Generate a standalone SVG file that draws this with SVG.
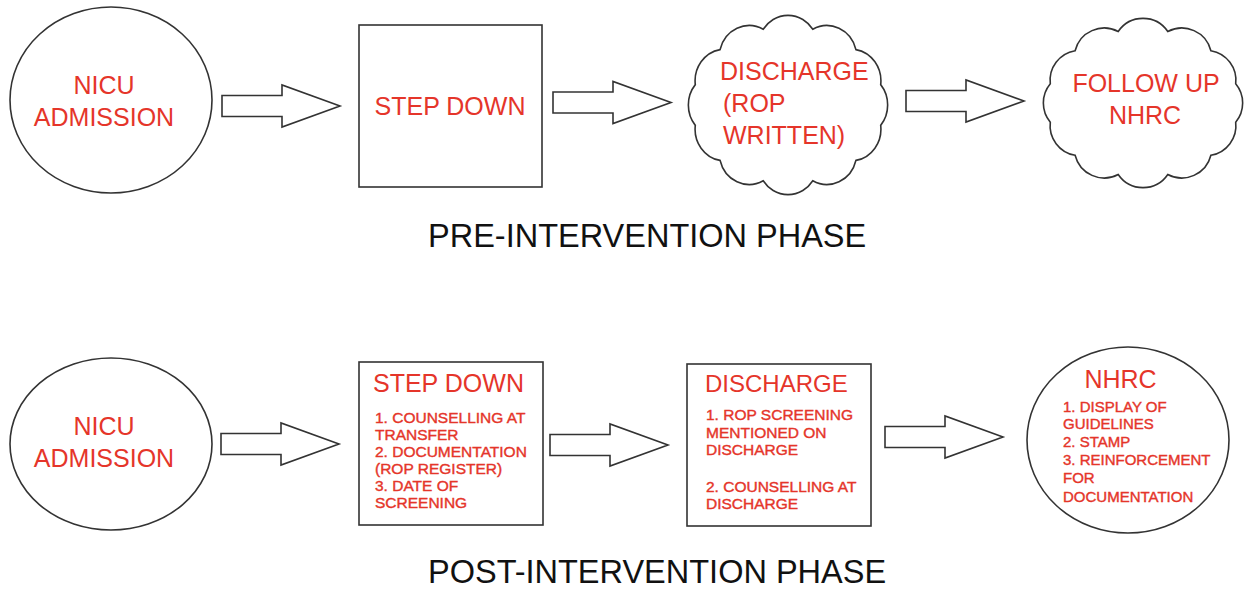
<svg xmlns="http://www.w3.org/2000/svg" xmlns:xlink="http://www.w3.org/1999/xlink" width="1246" height="591" viewBox="0 0 1246 591">
<style>
.shape{fill:none;stroke:#333;stroke-width:1.6}
.arrow{fill:#fff;stroke:#333;stroke-width:1.6;stroke-linejoin:miter}
.t{font-family:"Liberation Sans",Arial,sans-serif;fill:#e5352a}
.big{font-size:25px}
.small{font-size:15.5px;stroke:#e5352a;stroke-width:0.4}
.nh{font-size:15px}
.title{font-family:"Liberation Sans",Arial,sans-serif;font-size:32.5px;fill:#111}
</style>
<defs>
<path id="blockArrow" d="M0,-10.5 H60 V-21 L118,0 L60,21 V10.5 H0 Z"/>
<path id="cloud" d="M92.7,19.2 A30,30 0 0 1 67.9,52.3 A30,30 0 0 1 24.8,71.5 A30,30 0 0 1 -24.8,71.5 A30,30 0 0 1 -67.9,52.3 A30,30 0 0 1 -92.7,19.2 A30,30 0 0 1 -92.7,-19.2 A30,30 0 0 1 -67.9,-52.3 A30,30 0 0 1 -24.8,-71.5 A30,30 0 0 1 24.8,-71.5 A30,30 0 0 1 67.9,-52.3 A30,30 0 0 1 92.7,-19.2 A30,30 0 0 1 92.7,19.2 Z"/>
</defs>
<rect width="1246" height="591" fill="#fff"/>

<g id="pre-nicu">
<ellipse class="shape" cx="111" cy="100" rx="101" ry="93"/>
<text class="t big" x="104" y="94" text-anchor="middle">NICU</text>
<text class="t big" x="104" y="126" text-anchor="middle">ADMISSION</text>
</g>
<g id="pre-stepdown">
<rect class="shape" x="359" y="25" width="183" height="162"/>
<text class="t big" x="450" y="115" text-anchor="middle">STEP DOWN</text>
</g>
<g id="pre-discharge">
<use xlink:href="#cloud" class="shape" transform="translate(788,105) scale(1,1.06)" style="vector-effect:non-scaling-stroke"/>
<text class="t big" x="720" y="80">DISCHARGE</text>
<text class="t big" x="723" y="112">(ROP</text>
<text class="t big" x="723" y="144">WRITTEN)</text>
</g>
<g id="pre-followup">
<use xlink:href="#cloud" class="shape" transform="translate(1143,103)"/>
<text class="t big" x="1146" y="92" text-anchor="middle">FOLLOW UP</text>
<text class="t big" x="1145" y="124" text-anchor="middle">NHRC</text>
</g>
<g id="pre-title">
<text class="title" x="428" y="247">PRE-INTERVENTION PHASE</text>
</g>

<g id="post-nicu">
<ellipse class="shape" cx="111" cy="444" rx="101" ry="86"/>
<text class="t big" x="104" y="435" text-anchor="middle">NICU</text>
<text class="t big" x="104" y="467" text-anchor="middle">ADMISSION</text>
</g>
<g id="post-stepdown">
<rect class="shape" x="359" y="362" width="184" height="163"/>
<text class="t big" x="373" y="392">STEP DOWN</text>
<text class="t small" x="375" y="423">1. COUNSELLING AT</text>
<text class="t small" x="375" y="440">TRANSFER</text>
<text class="t small" x="375" y="457">2. DOCUMENTATION</text>
<text class="t small" x="375" y="474">(ROP REGISTER)</text>
<text class="t small" x="375" y="491">3. DATE OF</text>
<text class="t small" x="375" y="508">SCREENING</text>
</g>
<g id="post-discharge">
<rect class="shape" x="687" y="364" width="184" height="162"/>
<text class="t" style="font-size:24px" x="705" y="392">DISCHARGE</text>
<text class="t small" x="706" y="420">1. ROP SCREENING</text>
<text class="t small" x="706" y="438">MENTIONED ON</text>
<text class="t small" x="706" y="455">DISCHARGE</text>
<text class="t small" x="706" y="492">2. COUNSELLING AT</text>
<text class="t small" x="706" y="509">DISCHARGE</text>
</g>
<g id="post-nhrc">
<ellipse class="shape" cx="1128" cy="440" rx="101" ry="93"/>
<text class="t big" x="1120.5" y="388" text-anchor="middle">NHRC</text>
<text class="t small nh" x="1063" y="412">1. DISPLAY OF</text>
<text class="t small nh" x="1063" y="429">GUIDELINES</text>
<text class="t small nh" x="1063" y="447">2. STAMP</text>
<text class="t small nh" x="1063" y="465">3. REINFORCEMENT</text>
<text class="t small nh" x="1063" y="483">FOR</text>
<text class="t small nh" x="1063" y="502">DOCUMENTATION</text>
</g>
<g id="post-title">
<text class="title" x="428" y="583">POST-INTERVENTION PHASE</text>
</g>

<g id="connectors">
<use xlink:href="#blockArrow" class="arrow" transform="translate(222,106)"/>
<use xlink:href="#blockArrow" class="arrow" transform="translate(553,102.5)"/>
<use xlink:href="#blockArrow" class="arrow" transform="translate(906,101)"/>
<use xlink:href="#blockArrow" class="arrow" transform="translate(221,444)"/>
<use xlink:href="#blockArrow" class="arrow" transform="translate(550,445)"/>
<use xlink:href="#blockArrow" class="arrow" transform="translate(885,437)"/>
</g>
</svg>
